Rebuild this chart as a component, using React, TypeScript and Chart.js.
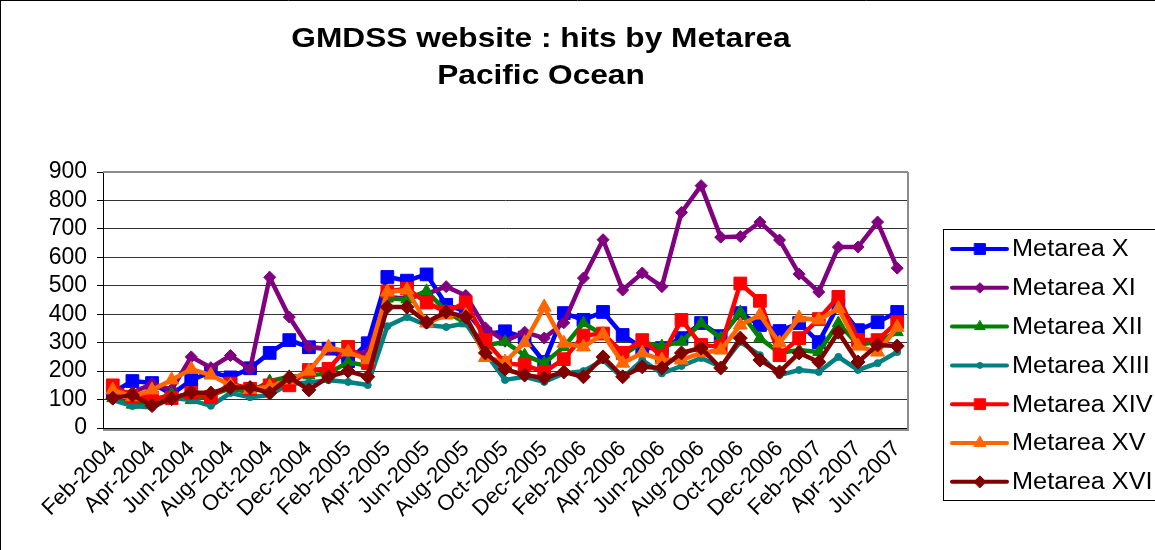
import React, { useEffect, useRef } from "react";
import { Chart, registerables } from "chart.js";
import { drawPoint } from "chart.js/helpers";

Chart.register(...registerables);

const FONT = '"Liberation Sans", Arial, Helvetica, sans-serif';

const titleLines = ["GMDSS website : hits by Metarea", "Pacific Ocean"];

const months = [
  "Feb-2004", "Mar-2004", "Apr-2004", "May-2004", "Jun-2004", "Jul-2004", "Aug-2004", "Sep-2004", "Oct-2004", "Nov-2004", "Dec-2004",
  "Jan-2005", "Feb-2005", "Mar-2005", "Apr-2005", "May-2005", "Jun-2005", "Jul-2005", "Aug-2005", "Sep-2005", "Oct-2005", "Nov-2005", "Dec-2005",
  "Jan-2006", "Feb-2006", "Mar-2006", "Apr-2006", "May-2006", "Jun-2006", "Jul-2006", "Aug-2006", "Sep-2006", "Oct-2006", "Nov-2006", "Dec-2006",
  "Jan-2007", "Feb-2007", "Mar-2007", "Apr-2007", "May-2007", "Jun-2007",
];

const yMin = 0;
const yMax = 900;
const yStep = 100;

const metareaX = [125, 165, 158, 118, 168, 197, 178, 210, 264, 309, 284, 279, 235, 298, 531, 518, 540, 433, 410, 330, 340, 318, 232, 404, 380, 408, 327, 281, 281, 316, 369, 323, 404, 362, 341, 369, 302, 432, 344, 372, 408];
const metareaXI = [120, 125, 155, 135, 250, 212, 255, 207, 530, 390, 284, 278, 265, 264, 460, 455, 472, 497, 466, 352, 305, 337, 316, 370, 527, 662, 485, 545, 497, 758, 852, 671, 673, 724, 661, 541, 478, 636, 636, 724, 562];
const metareaXII = [105, 82, 95, 120, 98, 115, 140, 125, 165, 180, 185, 192, 232, 218, 455, 452, 482, 410, 368, 290, 303, 256, 228, 285, 369, 327, 256, 300, 288, 303, 369, 316, 408, 316, 264, 274, 267, 369, 292, 303, 337];
const metareaXIII = [98, 77, 72, 105, 98, 78, 123, 108, 116, 155, 160, 168, 162, 151, 358, 390, 362, 355, 368, 264, 169, 180, 162, 192, 200, 239, 176, 239, 192, 218, 246, 215, 303, 256, 186, 204, 197, 250, 204, 228, 267];
const metareaXIV = [150, 110, 107, 105, 123, 109, 156, 138, 150, 150, 204, 208, 285, 232, 480, 490, 441, 408, 441, 309, 228, 221, 197, 242, 325, 332, 264, 309, 253, 380, 292, 285, 508, 447, 256, 316, 383, 461, 309, 309, 372];
const metareaXV = [134, 110, 134, 169, 207, 186, 150, 136, 145, 169, 200, 284, 267, 240, 478, 485, 369, 397, 397, 248, 232, 300, 425, 298, 285, 330, 228, 264, 239, 239, 264, 274, 362, 397, 299, 387, 380, 420, 288, 267, 354];
const metareaXVI = [105, 116, 79, 103, 125, 123, 142, 142, 123, 178, 134, 180, 200, 180, 425, 425, 372, 408, 390, 264, 207, 186, 176, 197, 180, 250, 180, 215, 211, 264, 281, 211, 316, 239, 197, 264, 232, 337, 232, 292, 288];

const seriesNames = ["Metarea X", "Metarea XI", "Metarea XII", "Metarea XIII", "Metarea XIV", "Metarea XV", "Metarea XVI"];
const seriesData = [metareaX, metareaXI, metareaXII, metareaXIII, metareaXIV, metareaXV, metareaXVI];
const seriesColors = ["#0000FF", "#800080", "#008000", "#008080", "#FF0000", "#FF6600", "#800000"];
const seriesPointStyles = ["rect", "rectRot", "triangle", "circle", "rect", "triangle", "rectRot"];
const seriesPointRadius = [9, 6, 7, 3.5, 9, 8, 7];

const TITLE_STRETCH = 1.13;
const LEGEND_STRETCH = 1.1;

const decorPlugin = {
  id: "decor",
  beforeDraw(chart: any) {
    const ctx = chart.ctx;
    ctx.save();
    ctx.fillStyle = "#ffffff";
    ctx.fillRect(0, 0, chart.width, chart.height);
    ctx.restore();
  },
  beforeDatasetsDraw(chart: any) {
    const ctx = chart.ctx;
    const { left, top, right, bottom } = chart.chartArea;
    ctx.save();
    ctx.strokeStyle = "#8c8c8c";
    ctx.lineWidth = 2;
    ctx.beginPath();
    ctx.moveTo(left, top);
    ctx.lineTo(right + 1, top);
    ctx.moveTo(right + 1, top);
    ctx.lineTo(right + 1, bottom + 2);
    ctx.moveTo(left, bottom + 2);
    ctx.lineTo(right + 2, bottom + 2);
    ctx.stroke();
    ctx.restore();
  },
  afterDraw(chart: any) {
    const ctx = chart.ctx;
    ctx.save();
    // outer border
    ctx.strokeStyle = "#000";
    ctx.lineWidth = 1;
    ctx.beginPath();
    ctx.moveTo(0, 0.5);
    ctx.lineTo(chart.width, 0.5);
    ctx.moveTo(0.5, 0);
    ctx.lineTo(0.5, chart.height);
    ctx.stroke();

    // title
    ctx.fillStyle = "#000";
    ctx.font = `bold 28px ${FONT}`;
    ctx.textAlign = "center";
    ctx.textBaseline = "alphabetic";
    ctx.save();
    ctx.translate(541, 0);
    ctx.scale(TITLE_STRETCH, 1);
    ctx.fillText(titleLines[0], 0, 47);
    ctx.fillText(titleLines[1], 0, 84);
    ctx.restore();

    // legend
    const lx = 943, ly = 229, lw = 240, lh = 271;
    ctx.strokeStyle = "#000";
    ctx.lineWidth = 1;
    ctx.strokeRect(lx + 0.5, ly + 0.5, lw, lh);
    chart.data.datasets.forEach((ds: any, i: number) => {
      const y = 249 + i * 38.8;
      ctx.strokeStyle = ds.borderColor;
      ctx.lineWidth = 4;
      ctx.lineCap = "round";
      ctx.beginPath();
      ctx.moveTo(952, y);
      ctx.lineTo(1007, y);
      ctx.stroke();
      ctx.fillStyle = ds.backgroundColor;
      ctx.strokeStyle = ds.borderColor;
      ctx.lineWidth = 1;
      drawPoint(ctx, { pointStyle: ds.pointStyle, radius: ds.pointRadius * 0.85, borderWidth: 1, rotation: 0 } as any, 980, y);
      ctx.fillStyle = "#000";
      ctx.font = `23px ${FONT}`;
      ctx.textAlign = "left";
      ctx.textBaseline = "middle";
      ctx.save();
      ctx.translate(1012, y + 1);
      ctx.scale(LEGEND_STRETCH, 1);
      ctx.fillText(ds.label, 0, 0);
      ctx.restore();
    });
    ctx.restore();
  },
};

export default function App() {
  const ref = useRef<HTMLCanvasElement>(null);
  useEffect(() => {
    const canvas = ref.current;
    if (!canvas) return;
    const chart = new Chart(canvas, {
      type: "line",
      data: {
        labels: months,
        datasets: seriesNames.map((name, i) => ({
          label: name,
          data: seriesData[i],
          borderColor: seriesColors[i],
          backgroundColor: seriesColors[i],
          borderWidth: 4.5,
          pointStyle: seriesPointStyles[i] as any,
          pointRadius: seriesPointRadius[i],
          pointBorderWidth: 1,
          pointBackgroundColor: seriesColors[i],
          pointBorderColor: seriesColors[i],
          tension: 0,
          fill: false,
          order: 6 - i,
        })),
      },
      options: {
        responsive: false,
        animation: false,
        devicePixelRatio: 1,
        layout: { padding: { top: 172, right: 248, bottom: 0, left: 0 } },
        plugins: {
          legend: { display: false },
          title: { display: false },
          tooltip: { enabled: false },
        },
        scales: {
          x: {
            offset: true,
            grid: { display: false, drawTicks: false },
            border: { display: true, color: "#000", width: 1 },
            ticks: {
              autoSkip: false,
              maxRotation: 45,
              minRotation: 45,
              color: "#000",
              padding: 8,
              font: { family: FONT, size: 22 },
              callback: (_v: any, i: number) => (i % 2 === 0 ? months[i] : ""),
            },
            afterFit: (s: any) => {
              s.height = 122;
            },
          },
          y: {
            min: yMin,
            max: yMax,
            ticks: {
              stepSize: yStep,
              autoSkip: false,
              color: "#000",
              padding: 10,
              font: { family: FONT, size: 23 },
            },
            grid: { color: "#333333", lineWidth: 1, tickLength: 6, tickColor: "#000", drawTicks: true },
            border: { display: true, color: "#000", width: 1 },
            afterFit: (s: any) => {
              s.width = 103;
            },
          },
        },
      },
      plugins: [decorPlugin],
    });
    return () => chart.destroy();
  }, []);
  return (
    <div style={{ position: "absolute", left: 0, top: 0, width: 1155, height: 550, background: "#fff", overflow: "hidden" }}>
      <canvas ref={ref} width={1155} height={550} style={{ display: "block", width: 1155, height: 550 }} />
    </div>
  );
}
